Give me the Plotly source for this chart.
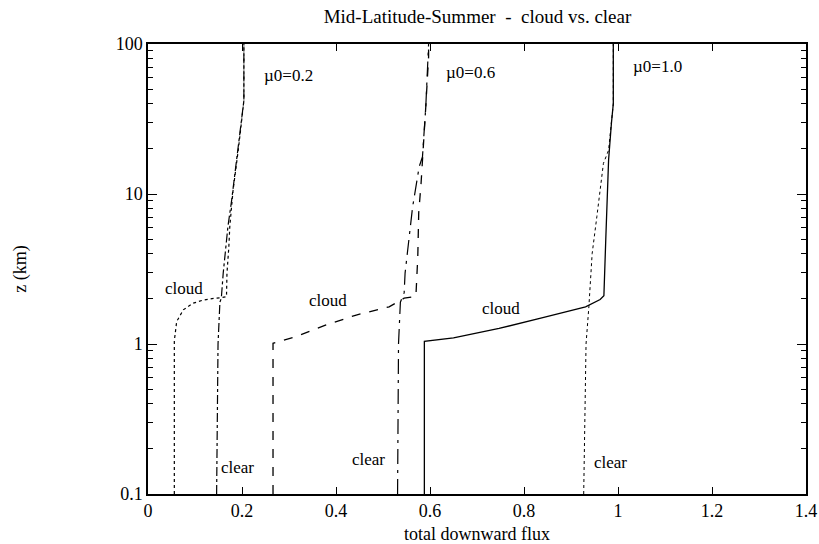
import plotly.graph_objects as go

# ---- data (x = total downward flux, z = altitude in km) ----
cloud_02_x = [0.056, 0.056, 0.061, 0.075, 0.096, 0.117, 0.142, 0.153, 0.167, 0.168, 0.172, 0.174, 0.181, 0.188, 0.192, 0.197, 0.201, 0.204, 0.204]
cloud_02_z = [0.1, 1.05, 1.41, 1.69, 1.87, 1.96, 2.02, 2.03, 2.07, 2.96, 4.45, 6.05, 10.6, 15.2, 19.6, 26.7, 34.5, 42, 100]
clear_02_x = [0.146, 0.149, 0.153, 0.156, 0.160, 0.165, 0.170, 0.178, 0.185, 0.192, 0.197, 0.201, 0.204, 0.204]
clear_02_z = [0.1, 1.0, 1.9, 2.02, 2.96, 4.23, 6.05, 9.1, 13.7, 19.6, 26.7, 34.5, 42, 100]

cloud_06_x = [0.266, 0.266, 0.315, 0.379, 0.443, 0.513, 0.545, 0.570, 0.574, 0.576, 0.581, 0.584, 0.591, 0.597, 0.597]
cloud_06_z = [0.1, 1.01, 1.12, 1.34, 1.56, 1.77, 2.02, 2.08, 3.8, 7.5, 11.8, 17.7, 38, 82, 100]
clear_06_x = [0.531, 0.533, 0.537, 0.545, 0.547, 0.559, 0.563, 0.577, 0.584, 0.591, 0.597, 0.597]
clear_06_z = [0.1, 1.0, 1.9, 2.2, 2.97, 6.05, 8.2, 15.2, 17.7, 38, 82, 100]

cloud_10_x = [0.588, 0.588, 0.650, 0.747, 0.840, 0.931, 0.962, 0.970, 0.974, 0.977, 0.980, 0.986, 0.990, 0.990]
cloud_10_z = [0.1, 1.04, 1.10, 1.27, 1.50, 1.77, 1.98, 2.1, 5.0, 10.0, 16.9, 29.6, 40, 100]
clear_10_x = [0.927, 0.932, 0.938, 0.945, 0.955, 0.962, 0.969, 0.980, 0.986, 0.990, 0.990]
clear_10_z = [0.1, 1.0, 1.77, 4.0, 7.06, 10.6, 16.0, 19.6, 29.6, 40, 100]

series = [
    ("cloud, mu0=0.2", cloud_02_x, cloud_02_z, "dot", 1.2),
    ("clear, mu0=0.2", clear_02_x, clear_02_z, "dashdot", 1.2),
    ("cloud, mu0=0.6", cloud_06_x, cloud_06_z, "dash", 1.3),
    ("clear, mu0=0.6", clear_06_x, clear_06_z, "longdashdot", 1.2),
    ("cloud, mu0=1.0", cloud_10_x, cloud_10_z, "solid", 1.3),
    ("clear, mu0=1.0", clear_10_x, clear_10_z, "dot", 1.0),
]

x_ticks = [0, 0.2, 0.4, 0.6, 0.8, 1, 1.2, 1.4]
x_ticktext = ["0", "0.2", "0.4", "0.6", "0.8", "1", "1.2", "1.4"]

# labels: (text, x, log10 z)
labels = [
    ("\u00b50=0.2", 0.299, 1.793),
    ("\u00b50=0.6", 0.687, 1.807),
    ("\u00b50=1.0", 1.084, 1.853),
    ("cloud", 0.076, 0.373),
    ("cloud", 0.384, 0.293),
    ("cloud", 0.751, 0.240),
    ("clear", 0.191, -0.820),
    ("clear", 0.469, -0.773),
    ("clear", 0.984, -0.787),
]

FONT = "Liberation Serif, Times New Roman, serif"

fig = go.Figure()
for name, xs, zs, dash, w in series:
    fig.add_trace(go.Scatter(x=xs, y=zs, mode="lines", name=name,
                             line=dict(color="black", width=w, dash=dash),
                             showlegend=False))

for t, xx, yy in labels:
    fig.add_annotation(text=t, x=xx, y=yy, xref="x", yref="y", showarrow=False,
                       font=dict(family=FONT, size=17, color="black"))

fig.update_layout(
    width=819, height=544,
    margin=dict(l=148, r=11, t=44, b=50),
    paper_bgcolor="white", plot_bgcolor="white",
    font=dict(family=FONT, color="black", size=16),
    title=dict(text="Mid-Latitude-Summer  -  cloud vs. clear", x=0.583, xanchor="center",
               y=0.97, yanchor="middle", font=dict(family=FONT, size=19, color="black")),
    xaxis=dict(range=[0, 1.4], tickmode="array", tickvals=x_ticks, ticktext=x_ticktext,
               ticks="inside", ticklen=7, tickcolor="black", tickwidth=1.2,
               showline=True, linecolor="black", linewidth=1.5, mirror="ticks",
               showgrid=False, zeroline=False, automargin=False,
               tickfont=dict(family=FONT, size=18),
               title=dict(text="total downward flux", font=dict(family=FONT, size=18))),
    yaxis=dict(type="log", range=[-1, 2], tickmode="linear", tick0=0, dtick=1,
               ticks="inside", ticklen=9, tickcolor="black", tickwidth=1.2,
               minor=dict(ticks="inside", ticklen=5, tickcolor="black",
                          tickwidth=1, showgrid=False),
               showline=True, linecolor="black", linewidth=1.5, mirror="ticks",
               showgrid=False, zeroline=False,
               tickfont=dict(family=FONT, size=18),
               title=dict(text="z (km)", standoff=84, font=dict(family=FONT, size=18))),
)

fig.write_html("out.html")
